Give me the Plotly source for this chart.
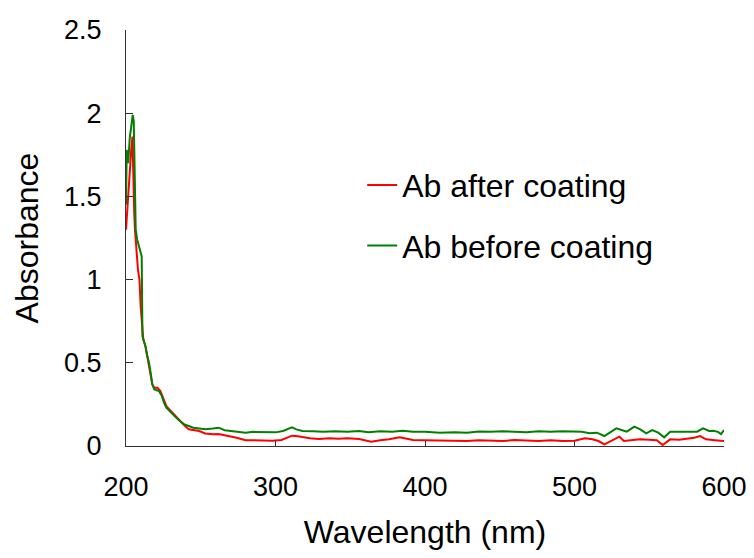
import plotly.graph_objects as go

# ---- data ----
wl_after = [200, 200.8, 201.5, 202.5, 203.5, 204.3, 204.8, 205.5, 206, 207, 208, 209, 209.8, 211, 211.6,
            213, 214, 215.4, 216.5, 217.6, 219, 221, 223, 225.4, 227, 229, 231, 233, 236, 239, 242, 245,
            249, 253, 258, 262, 266, 269, 274, 280, 286, 292, 298, 304, 308, 311, 315, 318, 323, 329,
            336, 342, 348, 356, 360, 364, 370, 376, 383, 388, 392, 400, 410, 420, 428, 436, 444, 452,
            460, 468, 476, 484, 492, 500, 507, 512, 516, 520, 524, 530, 533, 538, 544, 550, 555, 559,
            564, 570, 576, 580, 584, 588, 594, 600]
abs_after = [1.30, 1.42, 1.55, 1.65, 1.78, 1.86, 1.60, 1.40, 1.30, 1.15, 1.06, 1.00, 0.84, 0.70, 0.64,
             0.60, 0.55, 0.50, 0.44, 0.37, 0.35, 0.35, 0.33, 0.27, 0.24, 0.22, 0.20, 0.18, 0.15, 0.125,
             0.10, 0.095, 0.09, 0.075, 0.07, 0.072, 0.065, 0.06, 0.05, 0.035, 0.034, 0.032, 0.032, 0.036,
             0.05, 0.062, 0.058, 0.052, 0.046, 0.042, 0.046, 0.044, 0.046, 0.042, 0.032, 0.026, 0.035,
             0.04, 0.052, 0.042, 0.036, 0.035, 0.034, 0.035, 0.03, 0.035, 0.032, 0.03, 0.036, 0.032,
             0.03, 0.035, 0.03, 0.032, 0.046, 0.04, 0.03, 0.01, 0.03, 0.056, 0.03, 0.035, 0.04, 0.038,
             0.035, 0.006, 0.04, 0.038, 0.045, 0.05, 0.06, 0.04, 0.035, 0.03]

wl_before = [200, 200.5, 201.5, 202.5, 203.5, 204.5, 205.2, 205.8, 206.5, 207.5, 209, 210.5, 211, 212,
             213, 214, 215.4, 216.5, 217.6, 219, 222, 224, 225.4, 227, 229, 231, 233, 236, 239, 242, 245,
             249, 253, 258, 262, 266, 270, 275, 280, 285, 290, 295, 300, 305, 309, 311, 314, 318, 325,
             332, 340, 348, 356, 362, 370, 378, 385, 392, 400, 410, 420, 428, 436, 444, 452, 460, 468,
             476, 484, 492, 500, 505, 510, 515, 520, 524, 528, 532, 535, 540, 544, 548, 552, 556, 560,
             564, 570, 576, 582, 586, 590, 593, 596, 598, 600]
abs_before = [1.45, 1.78, 1.70, 1.85, 1.92, 1.99, 1.95, 1.50, 1.30, 1.24, 1.18, 1.14, 0.66, 0.63,
              0.60, 0.55, 0.50, 0.44, 0.37, 0.34, 0.33, 0.30, 0.26, 0.23, 0.21, 0.19, 0.175, 0.15, 0.13,
              0.12, 0.11, 0.105, 0.10, 0.105, 0.11, 0.095, 0.09, 0.085, 0.08, 0.085, 0.085, 0.085, 0.082,
              0.09, 0.105, 0.112, 0.10, 0.09, 0.088, 0.085, 0.088, 0.086, 0.09, 0.082, 0.088, 0.086,
              0.092, 0.085, 0.085, 0.08, 0.082, 0.08, 0.087, 0.085, 0.088, 0.086, 0.083, 0.088, 0.085,
              0.088, 0.084, 0.085, 0.076, 0.08, 0.06, 0.085, 0.106, 0.095, 0.086, 0.116, 0.10, 0.076,
              0.096, 0.08, 0.052, 0.086, 0.085, 0.087, 0.086, 0.106, 0.09, 0.092, 0.085, 0.072, 0.096]

x_ticks = [200, 300, 400, 500, 600]
y_ticks = [0, 0.5, 1, 1.5, 2, 2.5]
y_tick_labels = ["0", "0.5", "1", "1.5", "2", "2.5"]

FONT = "Liberation Sans, Arial, sans-serif"
AXIS_COLOR = "#333333"

fig = go.Figure()
fig.add_trace(go.Scatter(x=wl_after, y=abs_after, mode="lines", name="Ab after coating",
                         legendgroup="a", line=dict(color="#ff0000", width=2)))
fig.add_trace(go.Scatter(x=wl_before, y=abs_before, mode="lines", name="Ab before coating",
                         legendgroup="b", line=dict(color="#008000", width=2)))

# the page body adds an 8px margin, so the figure is 16px smaller than the window
fig.update_layout(
    width=738, height=542,
    margin=dict(l=118, r=22, t=22, b=104, autoexpand=False),
    paper_bgcolor="white", plot_bgcolor="white",
    font=dict(family=FONT, size=27, color="#000000"),
    showlegend=True,
    legend=dict(x=0.395, y=0.693, xanchor="left", yanchor="top", bgcolor="rgba(0,0,0,0)",
                font=dict(family=FONT, size=32, color="#000000"),
                tracegroupgap=16, traceorder="grouped"),
    xaxis=dict(range=[200, 600], tickvals=x_ticks, ticks="inside", ticklen=5, tickwidth=1.3,
               tickcolor=AXIS_COLOR, showline=True, linecolor=AXIS_COLOR, linewidth=1.3,
               showgrid=False, zeroline=False, ticklabelstandoff=16, ticklabeloverflow="allow",
               tickfont=dict(size=27),
               title=dict(text="Wavelength (nm)", font=dict(size=32), standoff=29)),
    yaxis=dict(range=[0, 2.5], tickvals=y_ticks, ticktext=y_tick_labels, ticks="inside", ticklen=7,
               tickwidth=1.3, tickcolor=AXIS_COLOR, showline=True, linecolor=AXIS_COLOR,
               linewidth=1.3, showgrid=False, zeroline=False, ticklabelstandoff=18,
               tickfont=dict(size=27),
               title=dict(text="Absorbance", font=dict(size=32), standoff=15)),
)

fig.write_html("out.html")
